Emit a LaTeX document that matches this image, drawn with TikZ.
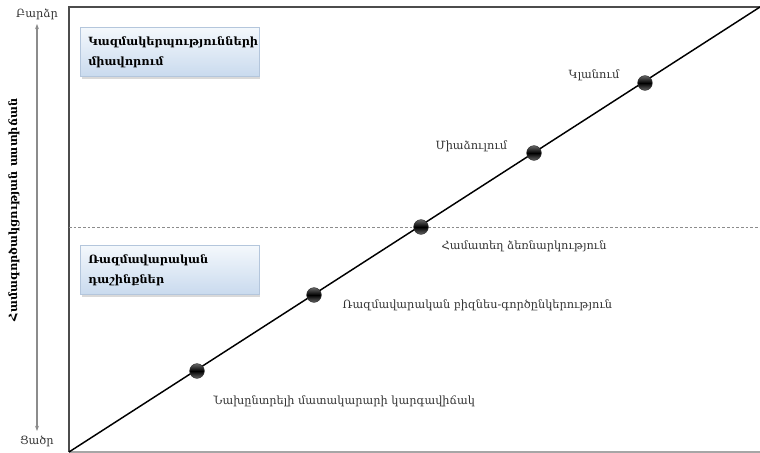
\documentclass[tikz,border=0pt]{standalone}
\usepackage{fontspec}
\setmainfont{DejaVu Serif}
\usetikzlibrary{shadows,arrows.meta}
\definecolor{boxtop}{HTML}{F4F8FC}
\definecolor{boxbot}{HTML}{C9DAEE}
\definecolor{boxline}{HTML}{B4C6DC}
\begin{document}
\begin{tikzpicture}[x=0.75pt,y=-0.75pt,
  lbl/.style={font=\fontsize{8.5}{10}\selectfont, text=black!80},
  stagebox/.style={draw=boxline, top color=boxtop, bottom color=boxbot,
    text width=122pt, minimum height=37pt, align=left, anchor=north west,
    font=\bfseries\fontsize{8.5}{15}\selectfont, inner xsep=6pt,
    drop shadow={shadow xshift=1pt, shadow yshift=-1.5pt, opacity=0.3}},
  dot/.style={circle, minimum size=11pt, inner sep=0pt, draw=black!80,
    top color=black!60, bottom color=black!60, middle color=black},
  axis/.style={draw=black!45, line width=1pt}]
\useasboundingbox (0,0) rectangle (760,453);
% frame of the chart
\coordinate (tl) at (69,7);
\coordinate (bl) at (69,452);
\coordinate (br) at (760,452);
\coordinate (tr) at (760,7);
\draw[black!70, line width=0.8pt] (tr) -- (tl) -- (bl);
\draw[black!35, line width=1.2pt] (bl) -- (br);
% level separator
\coordinate (ml) at (69,227);
\coordinate (mr) at (760,227);
\draw[black!45, dash pattern=on 2pt off 1.5pt, line width=0.7pt] (ml) -- (mr);
% diagonal progression
\draw[black, line width=1.1pt] (bl) -- (tr);
\node[dot] (d1) at (197,371) {};
\node[dot] (d2) at (314,295) {};
\node[dot] (d3) at (421,227) {};
\node[dot] (d4) at (534,153) {};
\node[dot] (d5) at (645,83) {};
% stage labels
\node[lbl, anchor=west] (l1) at (209,401) {Նախընտրելի մատակարարի կարգավիճակ};
\node[lbl, anchor=west] (l2) at (338,305) {Ռազմավարական բիզնես-գործընկերություն};
\node[lbl, anchor=west] (l3) at (437,246) {Համատեղ ձեռնարկություն};
\node[lbl, anchor=east] (l4) at (512,146) {Միաձուլում};
\node[lbl, anchor=east] (l5) at (624,75) {Կլանում};
% group boxes
\node[stagebox] (b1) at (80,27) {Կազմակերպությունների\\միավորում};
\node[stagebox] (b2) at (80,245) {Ռազմավարական\\դաշինքներ};
% vertical axis
\node[lbl] (hi) at (37,14) {Բարձր};
\node[lbl] (lo) at (37,441) {Ցածր};
\coordinate (amid) at (37,230);
\coordinate (atop) at (37,24);
\coordinate (abot) at (37,431);
\draw[axis, -{Stealth[length=4pt,width=3pt]}] (amid) -- (atop);
\draw[axis, -{Stealth[length=4pt,width=3pt]}] (amid) -- (abot);
\node[font=\bfseries\fontsize{8.5}{10}\selectfont, rotate=90] (ax) at (14,210) {Համագործակցության աստիճան};
\end{tikzpicture}
\end{document}
